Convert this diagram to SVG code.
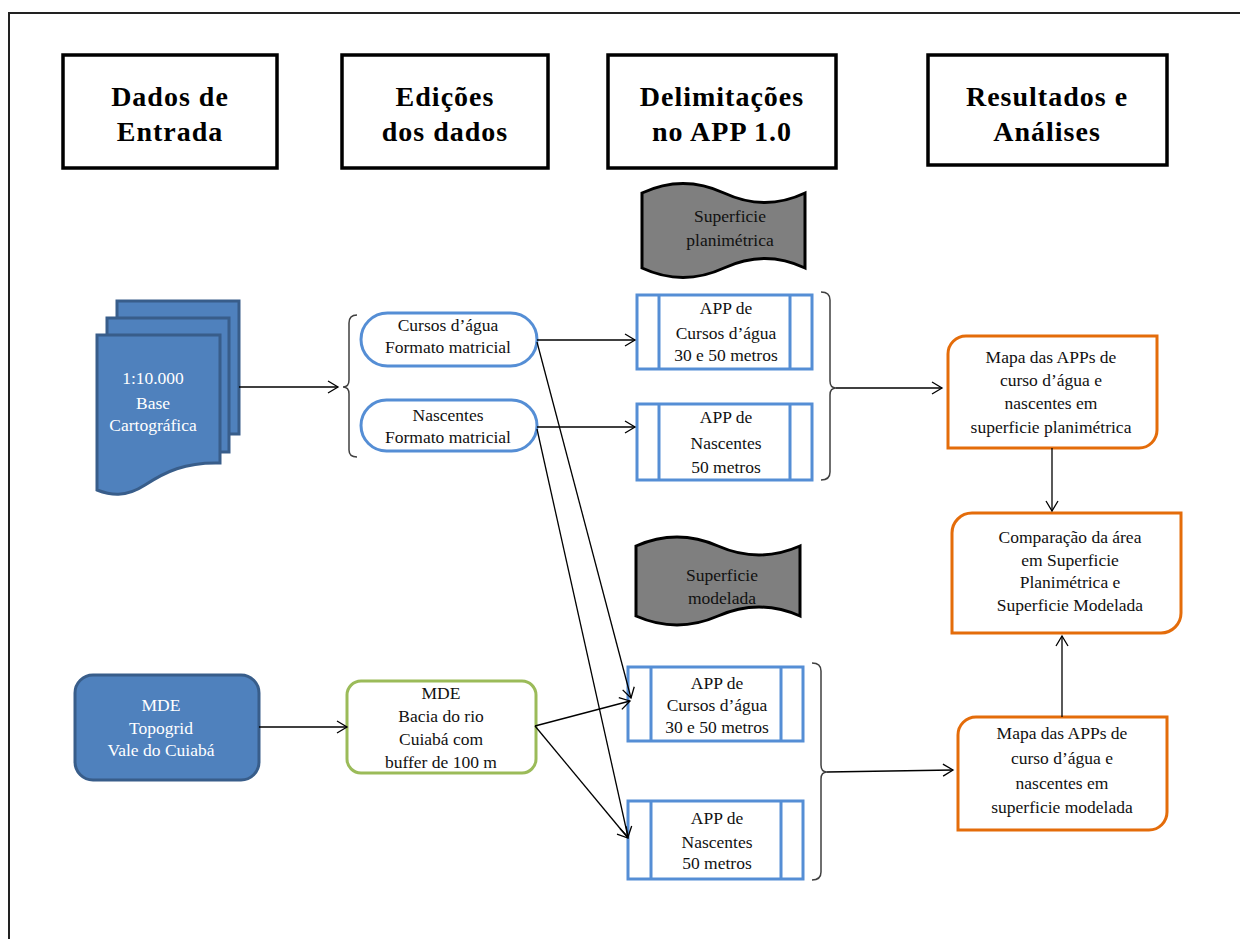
<svg xmlns="http://www.w3.org/2000/svg" width="1240" height="939" viewBox="0 0 1240 939">
<defs>
<marker id="arr" markerUnits="userSpaceOnUse" markerWidth="14" markerHeight="14" refX="11" refY="7" orient="auto">
<path d="M1,1 L11,7 L1,13" fill="none" stroke="#000" stroke-width="1.3"/>
</marker>
<style>
.hdr{fill:#fff;stroke:#000;stroke-width:3.5}
.ht{font-family:"Liberation Serif","Times New Roman",serif;font-weight:bold;font-size:28px;letter-spacing:1px;text-anchor:middle;fill:#000}
.t{font-family:"Liberation Serif","Times New Roman",serif;font-size:17.5px;text-anchor:middle;fill:#111}
.w{fill:#fff}
.blue{fill:#4F81BD;stroke:#385D8A;stroke-width:3}
.pill{fill:#fff;stroke:#558ED5;stroke-width:3}
.app{fill:#fff;stroke:#558ED5;stroke-width:3}
.tape{fill:#7F7F7F;stroke:#000;stroke-width:3}
.or{fill:#fff;stroke:#E46C0A;stroke-width:3}
.green{fill:#fff;stroke:#9BBB59;stroke-width:3}
.c{fill:none;stroke:#000;stroke-width:1.3}
.br{fill:none;stroke:#404040;stroke-width:1.5}
</style>
</defs>
<rect width="1240" height="939" fill="#fff"/>
<path d="M9,939 V13 H1240" fill="none" stroke="#222" stroke-width="2"/>

<g id="h1"><rect class="hdr" x="63" y="55" width="214" height="113"/><text class="ht" x="170" y="106">Dados de</text><text class="ht" x="170" y="141">Entrada</text></g>
<g id="h2"><rect class="hdr" x="342" y="55" width="206" height="113"/><text class="ht" x="445" y="106">Edições</text><text class="ht" x="445" y="141">dos dados</text></g>
<g id="h3"><rect class="hdr" x="608" y="55" width="228" height="113"/><text class="ht" x="722" y="106">Delimitações</text><text class="ht" x="722" y="141">no APP 1.0</text></g>
<g id="h4"><rect class="hdr" x="928" y="55" width="239" height="110"/><text class="ht" x="1047" y="106">Resultados e</text><text class="ht" x="1047" y="141">Análises</text></g>

<g id="doc">
<path class="blue" d="M117,301 H239 V434 H117 Z"/>
<path class="blue" d="M107,318 H229 V452 H107 Z"/>
<path class="blue" d="M97,335 H220 V463 C185,462 165,472 145,485 C125,498 110,495 97,490 Z"/>
<text class="t w" x="153" y="384">1:10.000</text>
<text class="t w" x="153" y="409">Base</text>
<text class="t w" x="153" y="431">Cartográfica</text>
</g>

<g id="mde"><rect class="blue" x="75" y="675" width="184" height="105" rx="18"/>
<text class="t w" x="161" y="711">MDE</text><text class="t w" x="161" y="734">Topogrid</text><text class="t w" x="161" y="756">Vale do Cuiabá</text></g>

<g id="pill1"><rect class="pill" x="361" y="313" width="176" height="53" rx="26.5"/>
<text class="t" x="448" y="331">Cursos d’água</text><text class="t" x="448" y="353">Formato matricial</text></g>
<g id="pill2"><rect class="pill" x="361" y="400" width="176" height="51" rx="25.5"/>
<text class="t" x="448" y="421">Nascentes</text><text class="t" x="448" y="443">Formato matricial</text></g>

<g id="mdeb"><rect class="green" x="347" y="681" width="189" height="92" rx="14"/>
<text class="t" x="441" y="699">MDE</text><text class="t" x="441" y="722">Bacia do rio</text><text class="t" x="441" y="745">Cuiabá com</text><text class="t" x="441" y="768">buffer de 100 m</text></g>

<g id="tape1"><path class="tape" d="M642,193 Q683,174 724,193 Q765,212 805,193 V268 Q765,249 724,268 Q683,287 642,268 Z"/>
<text class="t" x="730" y="222">Superficie</text><text class="t" x="730" y="246">planimétrica</text></g>
<g id="tape2"><path class="tape" d="M636,546 Q677,528 718,546 Q759,564 800,546 V616 Q759,598 718,616 Q677,634 636,616 Z"/>
<text class="t" x="722" y="581">Superficie</text><text class="t" x="722" y="604">modelada</text></g>

<g id="app1"><rect class="app" x="637" y="295" width="175" height="74"/><path d="M659,295 V369 M790,295 V369" stroke="#558ED5" stroke-width="3"/>
<text class="t" x="726" y="314">APP de</text><text class="t" x="726" y="339">Cursos d’água</text><text class="t" x="726" y="361">30 e 50 metros</text></g>
<g id="app2"><rect class="app" x="637" y="404" width="175" height="76"/><path d="M659,404 V480 M790,404 V480" stroke="#558ED5" stroke-width="3"/>
<text class="t" x="726" y="423">APP de</text><text class="t" x="726" y="449">Nascentes</text><text class="t" x="726" y="473">50 metros</text></g>
<g id="app3"><rect class="app" x="628" y="667" width="175" height="74"/><path d="M651,667 V741 M781,667 V741" stroke="#558ED5" stroke-width="3"/>
<text class="t" x="717" y="689">APP de</text><text class="t" x="717" y="711">Cursos d’água</text><text class="t" x="717" y="733">30 e 50 metros</text></g>
<g id="app4"><rect class="app" x="628" y="801" width="175" height="78"/><path d="M651,801 V879 M781,801 V879" stroke="#558ED5" stroke-width="3"/>
<text class="t" x="717" y="824">APP de</text><text class="t" x="717" y="848">Nascentes</text><text class="t" x="717" y="869">50 metros</text></g>

<g id="res1"><path class="or" d="M966,336 H1157 V430 A18,18 0 0 1 1139,448 H948 V354 A18,18 0 0 1 966,336 Z"/>
<text class="t" x="1051" y="363">Mapa das APPs de</text><text class="t" x="1051" y="386">curso  d’água  e</text><text class="t" x="1051" y="409">nascentes  em</text><text class="t" x="1051" y="433">superficie  planimétrica</text></g>
<g id="res2"><path class="or" d="M972,513 H1181 V613 A20,20 0 0 1 1161,633 H952 V533 A20,20 0 0 1 972,513 Z"/>
<text class="t" x="1070" y="543">Comparação da área</text><text class="t" x="1070" y="566">em Superficie</text><text class="t" x="1070" y="588">Planimétrica e</text><text class="t" x="1070" y="611">Superficie Modelada</text></g>
<g id="res3"><path class="or" d="M976,717 H1167 V812 A18,18 0 0 1 1149,830 H958 V735 A18,18 0 0 1 976,717 Z"/>
<text class="t" x="1062" y="739">Mapa das APPs de</text><text class="t" x="1062" y="764">curso  d’água  e</text><text class="t" x="1062" y="789">nascentes  em</text><text class="t" x="1062" y="813">superficie  modelada</text></g>

<g id="connectors">
<path class="br" d="M357,315 Q349,315 349,323 V380 Q349,387 343,387 Q349,387 349,394 V450 Q349,457 357,457"/>
<path class="br" d="M821,292 Q830,292 830,300 V381 Q830,388 836,388 Q830,388 830,395 V472 Q830,480 821,480"/>
<path class="br" d="M812,663 Q821,663 821,671 V765 Q821,772 827,772 Q821,772 821,779 V872 Q821,880 812,880"/>
<line class="c" x1="239" y1="387" x2="338" y2="387" marker-end="url(#arr)"/>
<line class="c" x1="259" y1="727" x2="347" y2="727" marker-end="url(#arr)"/>
<line class="c" x1="537" y1="340" x2="635" y2="340" marker-end="url(#arr)"/>
<line class="c" x1="537" y1="427" x2="635" y2="427" marker-end="url(#arr)"/>
<line class="c" x1="537" y1="342" x2="631" y2="698" marker-end="url(#arr)"/>
<line class="c" x1="537" y1="429" x2="628" y2="837" marker-end="url(#arr)"/>
<line class="c" x1="535" y1="726" x2="630" y2="701" marker-end="url(#arr)"/>
<line class="c" x1="535" y1="726" x2="628" y2="838" marker-end="url(#arr)"/>
<line class="c" x1="836" y1="388" x2="942" y2="388" marker-end="url(#arr)"/>
<line class="c" x1="827" y1="772" x2="953" y2="770" marker-end="url(#arr)"/>
<line class="c" x1="1052" y1="448" x2="1052" y2="511" marker-end="url(#arr)"/>
<line class="c" x1="1062" y1="717" x2="1062" y2="636" marker-end="url(#arr)"/>
</g>
</svg>
